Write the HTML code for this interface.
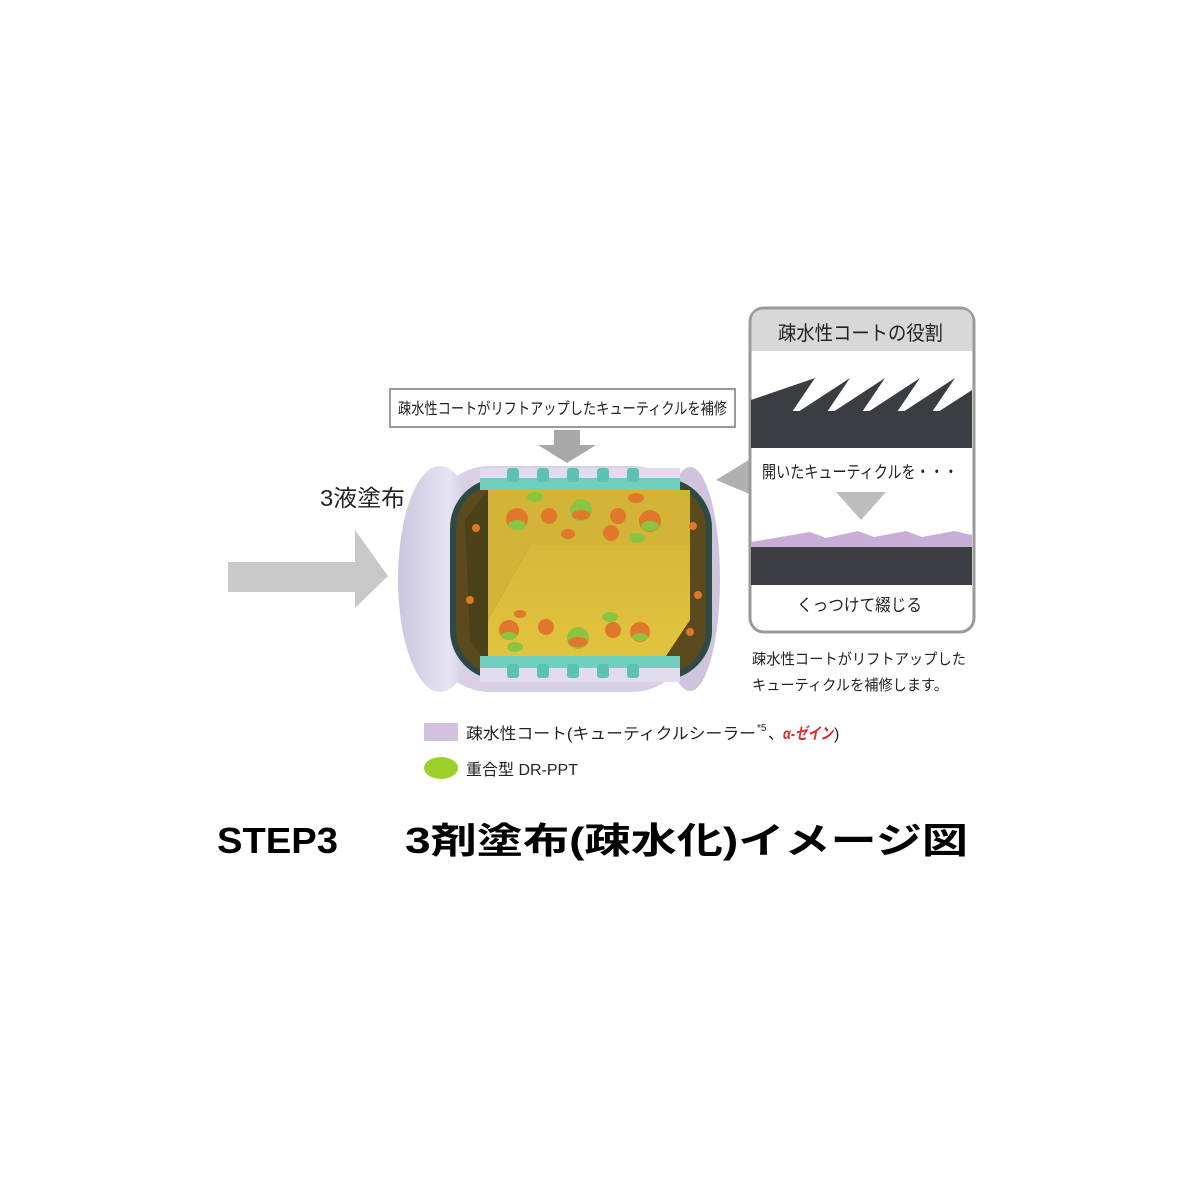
<!DOCTYPE html>
<html><head><meta charset="utf-8"><style>
html,body{margin:0;padding:0;background:#fff;}
svg{display:block;}
text{font-family:"Liberation Sans","Noto Sans CJK JP",sans-serif;}
</style></head><body>
<svg width="1200" height="1200" viewBox="0 0 1200 1200" xmlns="http://www.w3.org/2000/svg">
<rect width="1200" height="1200" fill="#fff"/>
<polygon points="228,562 355,562 355,530 388,576 355,608 355,592 228,592" fill="#c8c8c8"/>
<text x="320" y="506" font-size="23" fill="#222" textLength="85" lengthAdjust="spacingAndGlyphs">3液塗布</text>
<rect x="390" y="389" width="345" height="38" fill="#fff" stroke="#9a9a9a" stroke-width="2"/>
<text x="398" y="414" font-size="16" fill="#222" textLength="329" lengthAdjust="spacingAndGlyphs">疎水性コートがリフトアップしたキューティクルを補修</text>
<polygon points="554,430 580,430 580,445 596,445 567,463 538,445 554,445" fill="#a8a8a8"/>
<polygon points="716,480 752,458 752,495" fill="#b0b0b0"/>
<defs>
<linearGradient id="cap" x1="0" x2="1"><stop offset="0" stop-color="#c9c6e0"/><stop offset="0.6" stop-color="#e6e4f2"/><stop offset="1" stop-color="#bdb8d6"/></linearGradient>
<linearGradient id="yel" x1="0" y1="0" x2="0" y2="1"><stop offset="0" stop-color="#d8b83a"/><stop offset="1" stop-color="#e3c43e"/></linearGradient>
</defs>
<rect x="430" y="466" width="262" height="226" rx="60" fill="#d9cfe6"/>
<ellipse cx="690" cy="579" rx="30" ry="112" fill="#cfc4de"/>
<ellipse cx="440" cy="579" rx="42" ry="113" fill="url(#cap)"/>
<rect x="450" y="478" width="262" height="202" rx="50" fill="#2f4a44"/>
<rect x="456" y="484" width="250" height="190" rx="44" fill="#5a4a1e"/>
<polygon points="488,490 690,490 690,545 530,545 488,620" fill="#d4b437"/>
<polygon points="488,620 530,545 690,545 690,620 660,665 488,665" fill="url(#yel)"/>
<polygon points="488,490 488,665 470,640 465,520" fill="#4d4217"/>
<rect x="480" y="468" width="200" height="12" fill="#e3dbee"/>
<rect x="480" y="478" width="200" height="12" fill="#6fd0c0"/>
<rect x="480" y="656" width="200" height="12" fill="#6fd0c0"/>
<rect x="480" y="668" width="200" height="14" fill="#e3dbee"/>
<g fill="#5cc3b2">
<rect x="507" y="468" width="12" height="14" rx="3"/><rect x="537" y="468" width="12" height="14" rx="3"/><rect x="567" y="468" width="12" height="14" rx="3"/><rect x="597" y="468" width="12" height="14" rx="3"/><rect x="627" y="468" width="12" height="14" rx="3"/>
<rect x="507" y="664" width="12" height="14" rx="3"/><rect x="537" y="664" width="12" height="14" rx="3"/><rect x="567" y="664" width="12" height="14" rx="3"/><rect x="597" y="664" width="12" height="14" rx="3"/><rect x="627" y="664" width="12" height="14" rx="3"/>
</g>
<g>
<circle cx="517" cy="519" r="11" fill="#e0772a"/><ellipse cx="517" cy="525" rx="9" ry="5" fill="#8bc53f"/>
<circle cx="549" cy="516" r="8" fill="#e0772a"/>
<circle cx="581" cy="510" r="11" fill="#8bc53f"/><ellipse cx="581" cy="515" rx="9" ry="5" fill="#e0772a"/>
<circle cx="611" cy="533" r="8" fill="#e0772a"/>
<circle cx="618" cy="516" r="8" fill="#e0772a"/>
<circle cx="650" cy="521" r="11" fill="#e0772a"/><ellipse cx="650" cy="526" rx="9" ry="5" fill="#8bc53f"/>
<ellipse cx="535" cy="497" rx="8" ry="5" fill="#8bc53f"/>
<ellipse cx="636" cy="498" rx="8" ry="5" fill="#e0772a"/>
<ellipse cx="637" cy="538" rx="8" ry="5" fill="#8bc53f"/>
<ellipse cx="568" cy="534" rx="7" ry="5" fill="#e0772a"/>
<circle cx="509" cy="630" r="10" fill="#e0772a"/><ellipse cx="509" cy="636" rx="8" ry="4" fill="#8bc53f"/>
<circle cx="546" cy="627" r="8" fill="#e0772a"/>
<circle cx="578" cy="638" r="11" fill="#8bc53f"/><ellipse cx="578" cy="642" rx="10" ry="5" fill="#e0772a"/>
<circle cx="613" cy="630" r="8" fill="#e0772a"/>
<circle cx="640" cy="632" r="10" fill="#e0772a"/><ellipse cx="640" cy="637" rx="8" ry="4" fill="#8bc53f"/>
<ellipse cx="610" cy="617" rx="8" ry="5" fill="#8bc53f"/>
<ellipse cx="515" cy="647" rx="8" ry="5" fill="#8bc53f"/>
<ellipse cx="520" cy="614" rx="6" ry="4" fill="#e0772a"/>
<circle cx="476" cy="528" r="4" fill="#e0772a"/><circle cx="470" cy="600" r="4" fill="#e0772a"/>
<circle cx="693" cy="526" r="4" fill="#e0772a"/><circle cx="698" cy="595" r="4" fill="#e0772a"/><circle cx="690" cy="632" r="4" fill="#e0772a"/>
</g>
<!-- right panel -->
<rect x="750" y="308" width="224" height="324" rx="14" fill="#fff" stroke="#9a9a9a" stroke-width="3"/>
<path d="M751.5,351 L751.5,322 Q751.5,309.5 764,309.5 L960,309.5 Q972.5,309.5 972.5,322 L972.5,351 Z" fill="#d8d8d8"/>
<text x="778" y="340" font-size="20" fill="#222" textLength="165" lengthAdjust="spacingAndGlyphs">疎水性コートの役割</text>
<rect x="751" y="411" width="221" height="37" fill="#3a3d42"/>
<g fill="#3a3d42">
<polygon points="751,400 815,378 792,412 751,412"/>
<polygon points="798,412 850,378 827,412"/>
<polygon points="833,412 885,378 862,412"/>
<polygon points="868,412 920,378 897,412"/>
<polygon points="903,412 955,378 932,412"/>
<polygon points="938,412 972,390 972,412"/>
</g>
<text x="762" y="478" font-size="17" fill="#222" textLength="196" lengthAdjust="spacingAndGlyphs">開いたキューティクルを・・・</text>
<polygon points="836,492 886,492 861,520" fill="#bdbdbd"/>
<polygon points="751,542 810,532 826,538 858,531 874,537 906,531 922,537 954,531 972,535 972,547 751,548" fill="#c7aed6"/>
<rect x="751" y="547" width="221" height="38" fill="#3a3d42"/>
<text x="797" y="611" font-size="17" fill="#222" textLength="125" lengthAdjust="spacingAndGlyphs">くっつけて綴じる</text>
<text x="752" y="664" font-size="15" fill="#222" textLength="214" lengthAdjust="spacingAndGlyphs">疎水性コートがリフトアップした</text>
<text x="752" y="690" font-size="15" fill="#222" textLength="196" lengthAdjust="spacingAndGlyphs">キューティクルを補修します。</text>
<rect x="424" y="723" width="34" height="18" fill="#d2c2e0"/>
<text x="466" y="739" font-size="16" fill="#222" textLength="290" lengthAdjust="spacingAndGlyphs">疎水性コート(キューティクルシーラー</text>
<text x="757" y="731" font-size="10" fill="#222">*5</text>
<text x="768" y="739" font-size="16" fill="#222">、</text>
<text x="783" y="739" font-size="16" fill="#d8282c" font-weight="bold" font-style="italic" textLength="50" lengthAdjust="spacingAndGlyphs">α-ゼイン</text>
<text x="834" y="739" font-size="16" fill="#222">)</text>
<ellipse cx="441" cy="768" rx="17" ry="11" fill="#9ed02c"/>
<text x="466" y="775" font-size="16" fill="#222" textLength="112" lengthAdjust="spacingAndGlyphs">重合型 DR-PPT</text>
<text x="217" y="853" font-size="36" font-weight="bold" fill="#000" textLength="121" lengthAdjust="spacingAndGlyphs">STEP3</text>
<text x="405" y="853" font-size="36" font-weight="bold" fill="#000" textLength="563" lengthAdjust="spacingAndGlyphs">3剤塗布(疎水化)イメージ図</text>
</svg>
</body></html>
